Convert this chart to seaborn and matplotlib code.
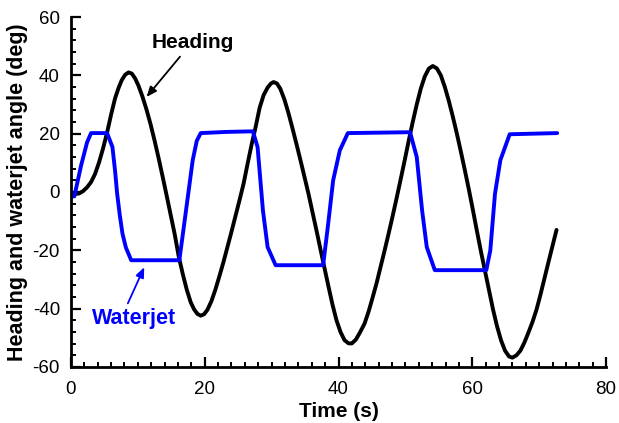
import matplotlib
matplotlib.use("Agg")
import matplotlib.pyplot as plt
import seaborn as sns
import pandas as pd
from matplotlib.ticker import MultipleLocator

# ---- data ----
heading_t = [0, 0.6, 1.2, 1.8, 2.4, 3.0, 3.6, 4.2, 4.8, 5.4, 6.0, 6.6, 7.1, 7.6, 8.1, 8.6,
             9.1, 9.6, 10.1, 10.7, 11.3, 11.9, 12.5, 13.1, 13.7, 14.3, 14.9, 15.5, 16.1,
             16.7, 17.3, 17.9, 18.4, 18.9, 19.4, 19.9, 20.4, 21.0, 21.6, 22.2, 22.8, 23.4,
             24.0, 24.6, 25.2, 25.8, 26.4, 27.0, 27.6, 28.2, 28.8, 29.4, 29.9, 30.3, 30.8,
             31.3, 31.9, 32.5, 33.1, 33.7, 34.3, 34.9, 35.5, 36.1, 36.7, 37.3, 37.9, 38.5,
             39.1, 39.7, 40.3, 40.9, 41.5, 42.0, 42.6, 43.2, 43.9, 44.5, 45.1, 45.7, 46.3,
             46.9, 47.5, 48.1, 48.7, 49.3, 49.9, 50.5, 51.1, 51.7, 52.3, 52.9, 53.5, 54.1,
             54.7, 55.3, 55.9, 56.5, 57.1, 57.7, 58.3, 58.9, 59.5, 60.1, 60.7, 61.3, 61.9,
             62.5, 63.1, 63.7, 64.3, 64.9, 65.5, 66.0, 66.6, 67.2, 67.8, 68.4, 69.0, 69.6,
             70.2, 70.8, 71.4, 72.0, 72.6]
heading = [-0.5, -0.7, -0.5, 0.3, 1.6, 3.4, 6.2, 10.2, 15.0, 20.4, 26.6, 32.2, 35.6, 38.4,
           40.2, 41.0, 40.6, 38.9, 36.4, 32.6, 28.2, 23.2, 17.6, 11.6, 5.3, -1.2, -7.8,
           -14.4, -22.0, -28.0, -33.4, -37.8, -40.2, -41.8, -42.4, -41.9, -40.4, -37.4,
           -33.4, -28.8, -24.0, -18.8, -13.6, -8.2, -2.8, 2.8, 9.6, 16.2, 22.2, 28.8, 33.2,
           35.8, 37.2, 37.7, 37.2, 35.4, 31.8, 27.2, 22.0, 16.6, 11.0, 5.3, -0.5, -6.8,
           -13.1, -19.6, -26.0, -32.4, -38.6, -44.0, -48.0, -50.8, -51.9, -51.9, -50.6,
           -48.2, -45.1, -41.0, -36.2, -31.2, -25.6, -20.0, -14.2, -8.2, -2.0, 4.4, 10.9,
           17.6, 24.0, 30.0, 35.4, 39.6, 42.3, 43.2, 42.4, 40.0, 36.0, 31.2, 25.8, 20.0,
           13.8, 7.4, 0.8, -6.2, -13.4, -20.4, -27.0, -33.6, -40.2, -46.0, -50.8, -54.4,
           -56.4, -56.8, -56.0, -54.4, -51.6, -48.2, -44.6, -40.4, -35.2, -29.6, -24.0,
           -18.5, -13.0]

waterjet_t = [0, 0.5, 1.5, 2.4, 3.0, 5.4, 6.2, 6.6, 6.9, 7.3, 7.7, 8.2, 9.0, 16.2, 17.2, 18.2,
              18.8, 19.4, 23.2, 27.2, 27.9, 28.7, 29.4, 30.6, 37.7, 38.4, 39.2, 40.2, 41.4,
              50.7, 51.7, 52.5, 53.2, 54.4, 62.1, 62.7, 63.4, 64.2, 65.6, 72.7]
waterjet = [-1.5, -1.5, 9.0, 17.0, 20.2, 20.2, 15.4, 7.0, -0.6, -8.0, -14.3, -19.0, -23.4,
            -23.4, -6.3, 10.9, 17.5, 20.2, 20.6, 20.8, 15.4, -6.3, -18.9, -25.1, -25.1,
            -12.0, 4.0, 14.3, 20.2, 20.5, 12.0, -6.3, -18.9, -26.8, -26.8, -20.0, -0.6,
            10.9, 19.8, 20.2]

xlim = (0, 80)
ylim = (-60, 60)

# ---- plotting ----
sns.set_style("ticks")
plt.rcParams['font.family'] = ['Liberation Sans', 'DejaVu Sans']
plt.rcParams['axes.unicode_minus'] = False
plt.rcParams['text.color'] = 'black'
plt.rcParams['axes.labelcolor'] = 'black'
plt.rcParams['xtick.color'] = 'black'
plt.rcParams['ytick.color'] = 'black'

fig = plt.figure(figsize=(6.19, 4.23), dpi=100)
ax = fig.add_axes([0.1147, 0.1324, 0.8643, 0.8274])

df_h = pd.DataFrame({"t": heading_t, "v": heading})
df_w = pd.DataFrame({"t": waterjet_t, "v": waterjet})
sns.lineplot(data=df_h, x="t", y="v", ax=ax, color="black", lw=2.8, sort=False,
             estimator=None, solid_capstyle="round", solid_joinstyle="round")
sns.lineplot(data=df_w, x="t", y="v", ax=ax, color="#0000ff", lw=2.8, sort=False,
             estimator=None, solid_capstyle="round", solid_joinstyle="round")

ax.set_xlim(*xlim)
ax.set_ylim(*ylim)
ax.xaxis.set_major_locator(MultipleLocator(20))
ax.xaxis.set_minor_locator(MultipleLocator(2))
ax.yaxis.set_major_locator(MultipleLocator(20))
ax.yaxis.set_minor_locator(MultipleLocator(4))

sns.despine(ax=ax)
for s in ("left", "bottom"):
    ax.spines[s].set_linewidth(2.0)
    ax.spines[s].set_color("black")
ax.tick_params(which="major", direction="in", length=7, width=1.6, labelsize=13.5,
               colors="black", labelcolor="black")
ax.tick_params(axis="x", which="major", pad=10)
ax.tick_params(axis="y", which="major", pad=8)
ax.tick_params(which="minor", direction="in", length=3.5, width=1.4, colors="black")

ax.set_xlabel("Time (s)", fontsize=15, fontweight="bold", labelpad=3, color="black")
ax.set_ylabel("Heading and waterjet angle (deg)", fontsize=15.5, fontweight="bold",
              labelpad=3, color="black")

ax.annotate("", xy=(11.3, 32.6), xytext=(16.3, 46.4),
            arrowprops=dict(arrowstyle="-|>,head_length=0.6,head_width=0.25",
                            color="black", lw=1.3, shrinkA=0, shrinkB=0))
ax.text(18.2, 51.3, "Heading", fontsize=15, fontweight="bold", color="black",
        ha="center", va="center")
ax.annotate("", xy=(10.95, -25.8), xytext=(8.5, -38.2),
            arrowprops=dict(arrowstyle="-|>,head_length=0.6,head_width=0.25",
                            color="#0000ff", lw=1.3, shrinkA=0, shrinkB=0))
ax.text(9.5, -43.5, "Waterjet", fontsize=15.5, fontweight="bold", color="#0000ff",
        ha="center", va="center")

fig.savefig("out.png", dpi=100)
